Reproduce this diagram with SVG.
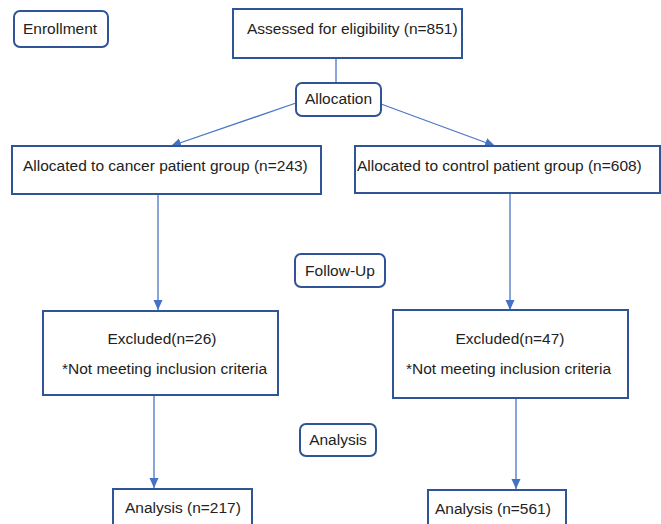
<svg xmlns="http://www.w3.org/2000/svg" width="661" height="524" viewBox="0 0 661 524">
<style>
.box{fill:#fff;stroke:#2F5597;stroke-width:2}
.t{font-family:"Liberation Sans",Arial,sans-serif;font-size:15.5px;fill:#222}
.c{fill:none;stroke:#4A76C6;stroke-width:1.3}
</style>
<defs>
<marker id="ah" markerUnits="userSpaceOnUse" markerWidth="10" markerHeight="10" viewBox="0 0 10 10" refX="10" refY="5" orient="auto">
<path d="M0,0.5 L10,5 L0,9.5 Z" fill="#4472C4"/>
</marker>
</defs>
<rect width="661" height="524" fill="#fff"/>
<g id="connectors">
<line class="c" x1="336" y1="58" x2="336" y2="83"/>
<line class="c" x1="296" y1="103" x2="171" y2="146" marker-end="url(#ah)"/>
<line class="c" x1="381" y1="104" x2="495" y2="146" marker-end="url(#ah)"/>
<line class="c" x1="158" y1="194" x2="158" y2="310" marker-end="url(#ah)"/>
<line class="c" x1="510" y1="194" x2="510" y2="310" marker-end="url(#ah)"/>
<line class="c" x1="154" y1="395" x2="154" y2="488" marker-end="url(#ah)"/>
<line class="c" x1="516" y1="398" x2="516" y2="489" marker-end="url(#ah)"/>
</g>
<g id="enrollment">
<rect class="box" x="14" y="11" width="94" height="36" rx="6"/>
<text class="t" x="23" y="34">Enrollment</text>
</g>
<g id="assessed">
<rect class="box" x="233" y="9" width="229" height="49"/>
<text class="t" x="247" y="34">Assessed for eligibility (n=851)</text>
</g>
<g id="allocation">
<rect class="box" x="296" y="83" width="85" height="33" rx="6"/>
<text class="t" x="338.5" y="104" text-anchor="middle">Allocation</text>
</g>
<g id="cancer-group">
<rect class="box" x="12" y="146" width="309" height="48"/>
<text class="t" x="23" y="171">Allocated to cancer patient group (n=243)</text>
</g>
<g id="control-group">
<rect class="box" x="355" y="146" width="305" height="47"/>
<text class="t" x="357" y="171">Allocated to control patient group (n=608)</text>
</g>
<g id="follow-up">
<rect class="box" x="295" y="254" width="90" height="33" rx="6"/>
<text class="t" x="340" y="276" text-anchor="middle">Follow-Up</text>
</g>
<g id="excluded-cancer">
<rect class="box" x="43" y="311" width="235" height="84"/>
<text class="t" x="162" y="344" text-anchor="middle">Excluded(n=26)</text>
<text class="t" x="62" y="374">*Not meeting inclusion criteria</text>
</g>
<g id="excluded-control">
<rect class="box" x="393" y="310" width="235" height="88"/>
<text class="t" x="510" y="344" text-anchor="middle">Excluded(n=47)</text>
<text class="t" x="406" y="374">*Not meeting inclusion criteria</text>
</g>
<g id="analysis">
<rect class="box" x="300" y="424" width="76" height="32" rx="6"/>
<text class="t" x="338" y="445" text-anchor="middle">Analysis</text>
</g>
<g id="analysis-cancer">
<rect class="box" x="113" y="489" width="139" height="50"/>
<text class="t" x="125" y="513">Analysis (n=217)</text>
</g>
<g id="analysis-control">
<rect class="box" x="428" y="490" width="138" height="50"/>
<text class="t" x="435" y="514">Analysis (n=561)</text>
</g>
</svg>
